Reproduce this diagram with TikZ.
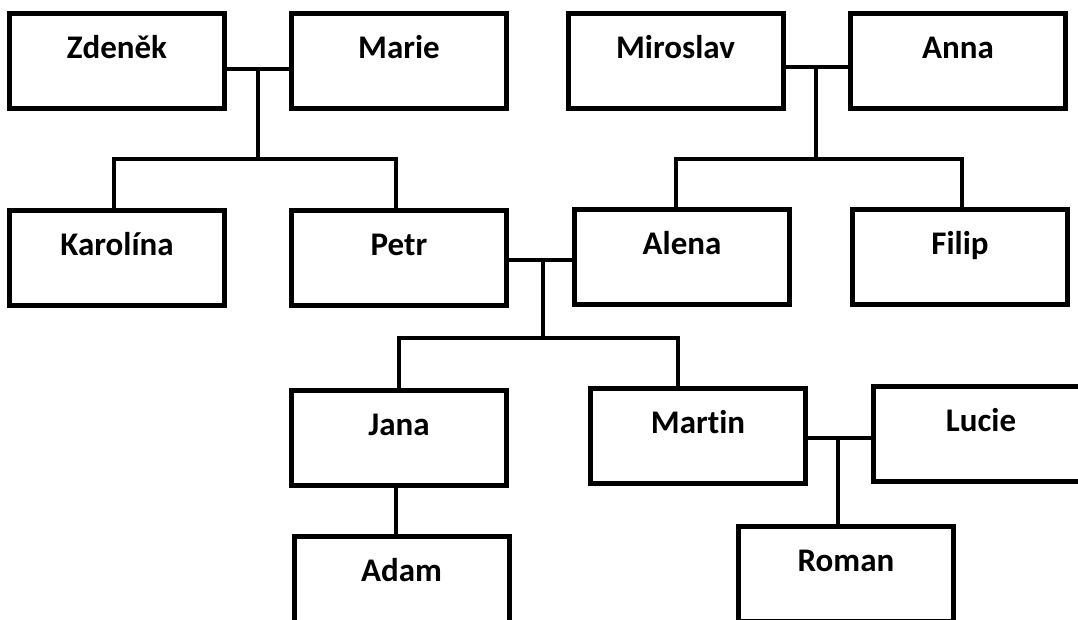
\documentclass[tikz,border=0pt]{standalone}
\usepackage{fontspec}
\setmainfont{Carlito}[Ligatures=NoCommon]
\begin{document}
\begin{tikzpicture}[x=1pt,y=-1pt,
  person/.style={draw=black, line width=5pt, fill=white, rectangle, inner sep=0pt,
    minimum width=215pt, text height=45pt, text depth=50pt,
    font=\fontsize{33}{38}\selectfont\bfseries},
  link/.style={draw=black, line width=4.8pt, line join=miter}]
\useasboundingbox (0,0) rectangle (1078,619);
\fill[white] (0,0) rectangle (1078,619);
\clip (0,0) rectangle (1078,619);
% generation 1
\node[person] (Zd) at (117,60.5) {Zdeněk};
\node[person] (Ma) at (399,60.5) {Marie};
\node[person] (Mi) at (675.5,60.5) {Miroslav};
\node[person] (An) at (958,60.5) {Anna};
% generation 2
\node[person] (Ka) at (117,257.5) {Karolína};
\node[person] (Pe) at (399,257.5) {Petr};
\node[person] (Al) at (682,257) {Alena};
\node[person] (Fi) at (960,257) {Filip};
% generation 3
\node[person] (Ja) at (399,438) {Jana};
\node[person] (Mt) at (698,436) {Martin};
\node[person] (Lu) at (981,433.5) {Lucie};
% generation 4
\node[person] (Ad) at (401.5,584) {Adam};
\node[person] (Ro) at (846,574) {Roman};
% couple Zdeněk + Marie
\coordinate (j1) at (258,69);
\coordinate (b1) at (258,159);
\draw[link] (Zd.east |- j1) -- (Ma.west |- j1);
\draw[link] (j1) -- (b1);
\draw[link] ([xshift=-3pt]Ka.north) |- (b1) -| ([xshift=-3pt]Pe.north);
% couple Miroslav + Anna
\coordinate (j2) at (816,67);
\coordinate (b2) at (816,159);
\draw[link] (Mi.east |- j2) -- (An.west |- j2);
\draw[link] (j2) -- (b2);
\draw[link] ([xshift=-6pt]Al.north) |- (b2) -| ([xshift=2pt]Fi.north);
% couple Petr + Alena
\coordinate (j3) at (543,260);
\coordinate (b3) at (543,338);
\draw[link] (Pe.east |- j3) -- (Al.west |- j3);
\draw[link] (j3) -- (b3);
\draw[link] (Ja.north) |- (b3) -| ([xshift=-20pt]Mt.north);
% Jana -> Adam
\draw[link] ([xshift=-3pt]Ja.south) -- ([xshift=-3pt]Ja.south |- Ad.north);
% couple Martin + Lucie
\coordinate (j4) at (838,438);
\draw[link] (Mt.east |- j4) -- (Lu.west |- j4);
\draw[link] (j4) -- (j4 |- Ro.north);
\end{tikzpicture}
\end{document}
